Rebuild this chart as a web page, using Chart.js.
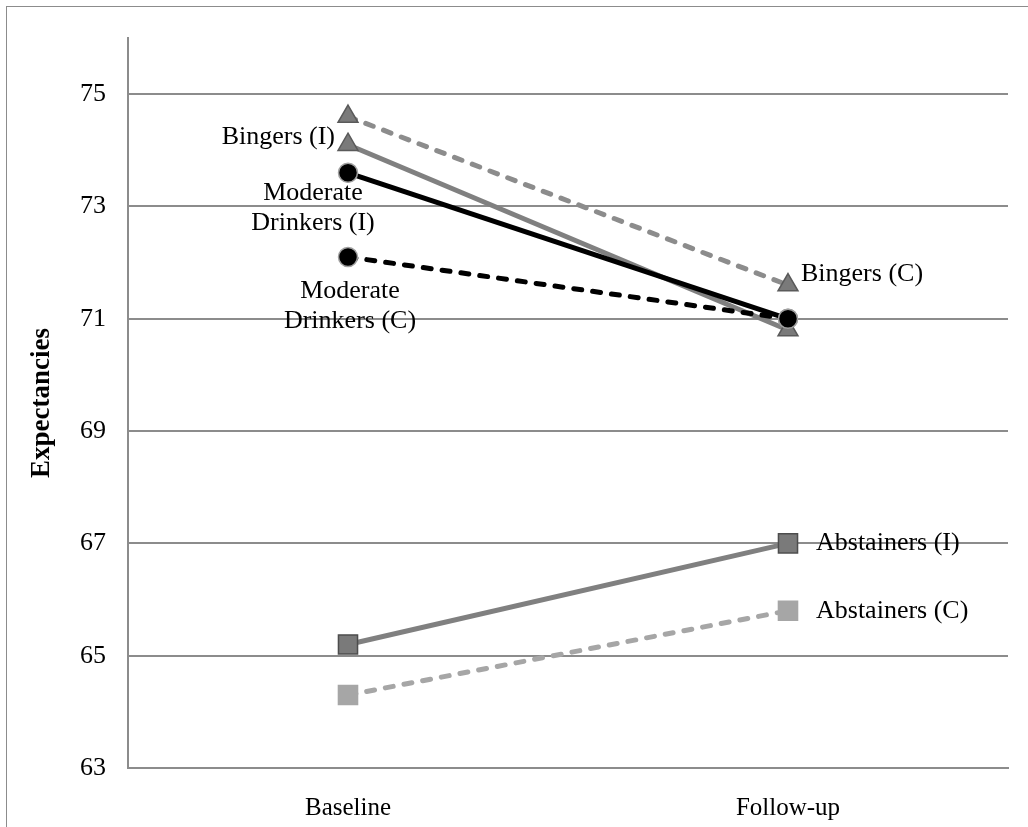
<!DOCTYPE html>
<html>
<head>
<meta charset="utf-8">
<script src="https://cdn.jsdelivr.net/npm/chart.js@4"></script>
<style>
  html, body { margin: 0; padding: 0; background: #fff; }
  #wrap { position: relative; width: 1028px; height: 827px; overflow: hidden; }
  #frame { position: absolute; left: 6px; top: 6px; width: 1100px; height: 900px;
           border-left: 1px solid #8c8c8c; border-top: 1px solid #8c8c8c; }
  canvas { position: absolute; left: 0; top: 0; }
</style>
</head>
<body>
<div id="wrap">
  <div id="frame"></div>
  <canvas id="chart" width="1028" height="827"></canvas>
</div>
<script>
// datos
const categories = ['Baseline', 'Follow-up'];
const yTicks = [63, 65, 67, 69, 71, 73, 75];

const moderateI = [73.6, 71.0];
const moderateC = [72.1, 71.0];
const bingersI = [74.1, 70.8];
const bingersC = [74.6, 71.6];
const abstainersI = [65.2, 67.0];
const abstainersC = [64.3, 65.8];

const seriesNames = ['Moderate Drinkers (I)', 'Moderate Drinkers (C)', 'Bingers (I)', 'Bingers (C)', 'Abstainers (I)', 'Abstainers (C)'];

const fontFamily = '"Liberation Serif", "Times New Roman", serif';
const dash = [8, 11];

// etiquetas junto a los puntos (indice del punto, lineas, alineacion, desplazamiento)
const pointLabels = {
  'Moderate Drinkers (I)': { index: 0, lines: ['Moderate', 'Drinkers (I)'], align: 'center', dx: -35, dy: 20 },
  'Moderate Drinkers (C)': { index: 0, lines: ['Moderate', 'Drinkers (C)'], align: 'center', dx: 2, dy: 34 },
  'Bingers (I)': { index: 0, lines: ['Bingers (I)'], align: 'right', dx: -13, dy: -8 },
  'Bingers (C)': { index: 1, lines: ['Bingers (C)'], align: 'left', dx: 13, dy: -11 },
  'Abstainers (I)': { index: 1, lines: ['Abstainers (I)'], align: 'left', dx: 28, dy: 0 },
  'Abstainers (C)': { index: 1, lines: ['Abstainers (C)'], align: 'left', dx: 28, dy: 0 }
};

const labelPlugin = {
  id: 'pointLabels',
  afterDatasetsDraw(chart) {
    const ctx = chart.ctx;
    ctx.save();
    ctx.font = '26px ' + fontFamily;
    ctx.fillStyle = '#000';
    ctx.textBaseline = 'middle';
    chart.data.datasets.forEach((ds, i) => {
      const cfg = pointLabels[ds.label];
      if (!cfg) return;
      const pt = chart.getDatasetMeta(i).data[cfg.index];
      ctx.textAlign = cfg.align;
      cfg.lines.forEach((line, k) => {
        ctx.fillText(line, pt.x + cfg.dx, pt.y + cfg.dy + k * 30);
      });
    });
    ctx.restore();
  }
};

function makeSet(label, data, color, dashed, pointStyle, pointFill, pointBorder, radius) {
  return {
    label: label,
    data: data,
    borderColor: color,
    borderWidth: 5,
    borderDash: dashed ? dash : [],
    borderCapStyle: dashed ? 'round' : 'butt',
    tension: 0,
    fill: false,
    pointStyle: pointStyle,
    pointRadius: radius,
    pointHoverRadius: radius,
    pointBackgroundColor: pointFill,
    pointBorderColor: pointBorder,
    pointBorderWidth: 1.5
  };
}

const ctx = document.getElementById('chart').getContext('2d');
const chart = new Chart(ctx, {
  type: 'line',
  data: {
    labels: categories,
    datasets: [
      makeSet(seriesNames[0], moderateI, '#000000', false, 'circle', '#000000', '#a0a0a0', 9.5),
      makeSet(seriesNames[1], moderateC, '#000000', true, 'circle', '#000000', '#a0a0a0', 9.5),
      makeSet(seriesNames[2], bingersI, '#808080', false, 'triangle', '#7a7a7a', '#5a5a5a', 11.5),
      makeSet(seriesNames[3], bingersC, '#8c8c8c', true, 'triangle', '#7a7a7a', '#5a5a5a', 11.5),
      makeSet(seriesNames[4], abstainersI, '#808080', false, 'rect', '#7a7a7a', '#4d4d4d', 13.5),
      makeSet(seriesNames[5], abstainersC, '#a6a6a6', true, 'rect', '#a6a6a6', '#a6a6a6', 13.5)
    ]
  },
  options: {
    responsive: false,
    animation: false,
    layout: { padding: { left: 0, top: 38, right: 20, bottom: 0 } },
    plugins: {
      legend: { display: false },
      tooltip: { enabled: false }
    },
    scales: {
      x: {
        offset: true,
        grid: { display: false },
        border: { display: true, color: '#8c8c8c', width: 2 },
        ticks: { color: '#000', font: { family: fontFamily, size: 25 }, padding: 17 },
        afterFit: (s) => { s.height = 59; }
      },
      y: {
        min: 63,
        max: 76,
        afterBuildTicks: (s) => { s.ticks = yTicks.map(v => ({ value: v })); },
        grid: { color: '#8c8c8c', lineWidth: 2, drawTicks: false },
        border: { display: true, color: '#8c8c8c', width: 2 },
        ticks: { color: '#000', font: { family: fontFamily, size: 26 }, padding: 22 },
        title: {
          display: true,
          text: 'Expectancies',
          color: '#000',
          font: { family: fontFamily, size: 27, weight: 'bold' },
          padding: { top: 26, bottom: 0 }
        },
        afterFit: (s) => { s.width = 128; }
      }
    }
  },
  plugins: [labelPlugin]
});
</script>
</body>
</html>
